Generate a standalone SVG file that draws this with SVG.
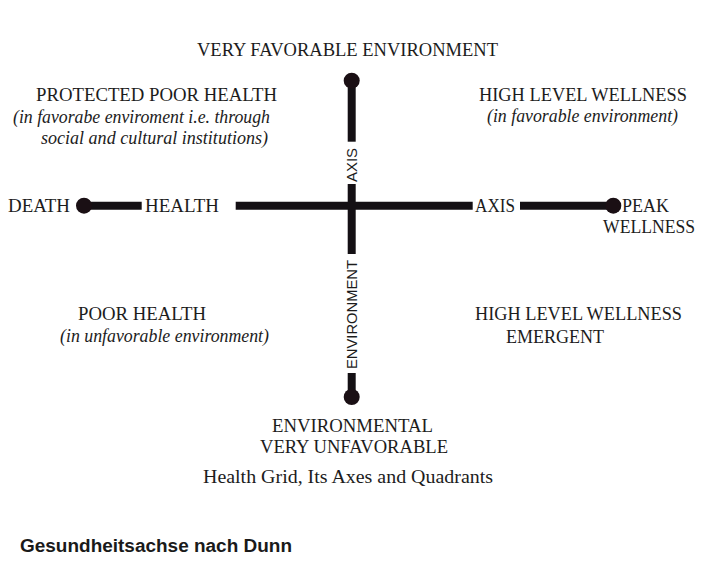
<svg xmlns="http://www.w3.org/2000/svg" width="711" height="565" viewBox="0 0 711 565">
<style>
.s{font-family:"Liberation Serif","Times New Roman",serif;font-size:18px;fill:#1c1c1c}
.i{font-style:italic}
.a{font-family:"Liberation Sans",Arial,sans-serif;font-size:15px;fill:#1c1c1c}
.t{font-family:"Liberation Sans",Arial,sans-serif;font-size:18px;font-weight:bold;fill:#1a1a1a}
.ln{stroke:#141014;stroke-width:8;fill:none;stroke-linecap:butt}
.dot{fill:#1a0f14}
</style>
<rect width="711" height="565" fill="#ffffff"/>
<g id="connectors">
<line class="ln" x1="351.7" y1="80.7" x2="351.7" y2="141.7"/>
<line class="ln" x1="351.7" y1="184" x2="351.7" y2="254"/>
<line class="ln" x1="351.7" y1="373" x2="351.7" y2="397"/>
<line class="ln" x1="84" y1="205.7" x2="141.7" y2="205.7"/>
<line class="ln" x1="235.7" y1="205.7" x2="472.7" y2="205.7"/>
<line class="ln" x1="520" y1="205.7" x2="613.3" y2="205.7"/>
<text class="a" transform="translate(357.3,165) rotate(-90)" text-anchor="middle" textLength="34" lengthAdjust="spacingAndGlyphs">AXIS</text>
<text class="a" transform="translate(357.3,314.5) rotate(-90)" text-anchor="middle" textLength="109" lengthAdjust="spacingAndGlyphs">ENVIRONMENT</text>
</g>
<g id="node-top">
<circle class="dot" cx="351.7" cy="80.7" r="8"/>
<text class="s" x="197" y="56" textLength="301" lengthAdjust="spacingAndGlyphs">VERY FAVORABLE ENVIRONMENT</text>
</g>
<g id="node-bottom">
<circle class="dot" cx="351.7" cy="397" r="8"/>
<text class="s" x="272" y="432" textLength="161" lengthAdjust="spacingAndGlyphs">ENVIRONMENTAL</text>
<text class="s" x="260" y="453" textLength="188" lengthAdjust="spacingAndGlyphs">VERY UNFAVORABLE</text>
</g>
<g id="node-death">
<circle class="dot" cx="84" cy="205.7" r="8"/>
<text class="s" x="8" y="211.5" textLength="62" lengthAdjust="spacingAndGlyphs">DEATH</text>
</g>
<g id="node-peak">
<circle class="dot" cx="613.3" cy="205.7" r="8"/>
<text class="s" x="622" y="211.5" textLength="47" lengthAdjust="spacingAndGlyphs">PEAK</text>
<text class="s" x="603" y="233" textLength="92" lengthAdjust="spacingAndGlyphs">WELLNESS</text>
</g>
<g id="label-health">
<text class="s" x="145" y="211.5" textLength="74" lengthAdjust="spacingAndGlyphs">HEALTH</text>
</g>
<g id="label-axis">
<text class="s" x="475" y="211.5" textLength="40" lengthAdjust="spacingAndGlyphs">AXIS</text>
</g>
<g id="quadrant-top-left">
<text class="s" x="36" y="101" textLength="241" lengthAdjust="spacingAndGlyphs">PROTECTED POOR HEALTH</text>
<text class="s i" x="13" y="123" textLength="257" lengthAdjust="spacingAndGlyphs">(in favorabe enviroment i.e. through</text>
<text class="s i" x="41" y="144" textLength="227" lengthAdjust="spacingAndGlyphs">social and cultural institutions)</text>
</g>
<g id="quadrant-top-right">
<text class="s" x="479" y="101" textLength="208" lengthAdjust="spacingAndGlyphs">HIGH LEVEL WELLNESS</text>
<text class="s i" x="487" y="122" textLength="191" lengthAdjust="spacingAndGlyphs">(in favorable environment)</text>
</g>
<g id="quadrant-bottom-left">
<text class="s" x="78" y="320" textLength="128" lengthAdjust="spacingAndGlyphs">POOR HEALTH</text>
<text class="s i" x="60" y="342" textLength="209" lengthAdjust="spacingAndGlyphs">(in unfavorable environment)</text>
</g>
<g id="quadrant-bottom-right">
<text class="s" x="475" y="320" textLength="207" lengthAdjust="spacingAndGlyphs">HIGH LEVEL WELLNESS</text>
<text class="s" x="506" y="343" textLength="98" lengthAdjust="spacingAndGlyphs">EMERGENT</text>
</g>
<g id="caption">
<text class="s" x="203" y="483" textLength="290" lengthAdjust="spacingAndGlyphs">Health Grid, Its Axes and Quadrants</text>
</g>
<g id="title">
<text class="t" x="20" y="552" textLength="272" lengthAdjust="spacingAndGlyphs">Gesundheitsachse nach Dunn</text>
</g>
</svg>
